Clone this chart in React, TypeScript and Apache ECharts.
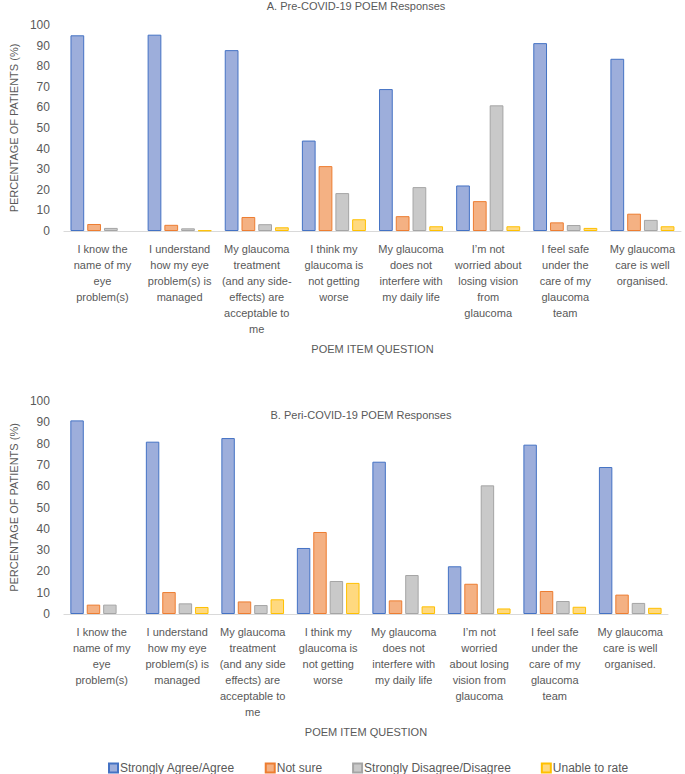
import React, { useEffect, useRef } from "react";
import * as echarts from "echarts";

const seriesNames = ["Strongly Agree/Agree", "Not sure", "Strongly Disagree/Disagree", "Unable to rate"];

const categoriesPre = [
  "I know the\nname of my\neye\nproblem(s)",
  "I understand\nhow my eye\nproblem(s) is\nmanaged",
  "My glaucoma\ntreatment\n(and any side-\neffects) are\nacceptable to\nme",
  "I think my\nglaucoma is\nnot getting\nworse",
  "My glaucoma\ndoes not\ninterfere with\nmy daily life",
  "I’m not\nworried about\nlosing vision\nfrom\nglaucoma",
  "I feel safe\nunder the\ncare of my\nglaucoma\nteam",
  "My glaucoma\ncare is well\norganised.",
];

const categoriesPeri = [
  "I know the\nname of my\neye\nproblem(s)",
  "I understand\nhow my eye\nproblem(s) is\nmanaged",
  "My glaucoma\ntreatment\n(and any side\neffects) are\nacceptable to\nme",
  "I think my\nglaucoma is\nnot getting\nworse",
  "My glaucoma\ndoes not\ninterfere with\nmy daily life",
  "I’m not\nworried\nabout losing\nvision from\nglaucoma",
  "I feel safe\nunder the\ncare of my\nglaucoma\nteam",
  "My glaucoma\ncare is well\norganised.",
];

const preAgree = [95, 95.3, 87.8, 43.9, 68.9, 22.1, 91.2, 83.6];
const preNotSure = [3.4, 3.0, 6.8, 31.5, 7.2, 14.5, 4.2, 8.4];
const preDisagree = [1.5, 1.3, 3.3, 18.4, 21.3, 61, 2.9, 5.4];
const preUnable = [0, 0.3, 1.8, 5.7, 2.3, 2.3, 1.5, 2.3];

const periAgree = [90.9, 80.9, 82.6, 31, 71.5, 22.4, 79.5, 69];
const periNotSure = [4.4, 10.3, 5.9, 38.5, 6.4, 14.2, 10.8, 9.1];
const periDisagree = [4.4, 5, 4.2, 15.5, 18.3, 60.4, 6.1, 5.2];
const periUnable = [0, 3.3, 6.9, 14.6, 3.6, 2.6, 3.4, 2.9];

const yTicks = [0, 10, 20, 30, 40, 50, 60, 70, 80, 90, 100];

const fills = ["#9DAEDB", "#F4B183", "#C9C9C9", "#FFD97F"];
const borders = ["#4472C4", "#ED7D31", "#A5A5A5", "#FFC000"];

const FONT = "Liberation Sans";
const GRAY = "#595959";

export default function App() {
  const ref = useRef<HTMLDivElement>(null);
  useEffect(() => {
    document.body.style.margin = "0";
    const chart = echarts.init(ref.current!, null, { renderer: "svg" });
    const pre = [preAgree, preNotSure, preDisagree, preUnable];
    const peri = [periAgree, periNotSure, periDisagree, periUnable];
    const mkX = (cats: string[], gi: number) => ({
      type: "category",
      gridIndex: gi,
      data: cats,
      axisLine: { lineStyle: { color: "#D9D9D9" } },
      axisTick: { show: false },
      axisLabel: {
        interval: 0,
        color: GRAY,
        fontFamily: FONT,
        fontSize: 11,
        lineHeight: 16,
        margin: 10,
      },
      name: "POEM ITEM QUESTION",
      nameLocation: "middle",
      nameGap: 112,
      nameTextStyle: { color: GRAY, fontFamily: FONT, fontSize: 11 },
    });
    const mkY = (gi: number) => ({
      type: "value",
      gridIndex: gi,
      min: yTicks[0],
      max: yTicks[yTicks.length - 1],
      interval: 10,
      splitLine: { show: false },
      axisLine: { show: false },
      axisTick: { show: false },
      axisLabel: { color: GRAY, fontFamily: FONT, fontSize: 12, margin: 14 },
      name: "PERCENTAGE OF PATIENTS (%)",
      nameLocation: "middle",
      nameGap: 44,
      nameTextStyle: { color: GRAY, fontFamily: FONT, fontSize: 11 },
    });
    const series: any[] = [];
    [pre, peri].forEach((set, gi) => {
      set.forEach((vals, i) => {
        series.push({
          type: "bar",
          name: seriesNames[i],
          xAxisIndex: gi,
          yAxisIndex: gi,
          data: vals.map((v) => (v === 0 ? null : v)),
          barGap: "22%",
          barCategoryGap: "17%",
          itemStyle: { color: fills[i], borderColor: borders[i], borderWidth: 1 },
        });
      });
    });
    chart.setOption({
      animation: false,
      textStyle: { fontFamily: FONT },
      grid: [
        { left: 55, width: 626, top: 25, height: 206 },
        { left: 55, width: 613, top: 401, height: 213 },
      ],
      xAxis: [mkX(categoriesPre, 0), mkX(categoriesPeri, 1)],
      yAxis: [mkY(0), mkY(1)],
      legend: {
        data: seriesNames,
        top: 762,
        left: 108,
        itemWidth: 9,
        itemHeight: 9,
        itemGap: 30,
        padding: 0,
        icon: "rect",
        textStyle: { color: GRAY, fontFamily: FONT, fontSize: 12, padding: [0, 0, 0, -3] },
      },
      graphic: [
        {
          type: "text",
          x: 356,
          y: 0,
          style: {
            text: "A. Pre-COVID-19 POEM Responses",
            textAlign: "center",
            fill: GRAY,
            fontFamily: FONT,
            fontSize: 11,
          },
        },
        {
          type: "text",
          x: 361,
          y: 409,
          style: {
            text: "B. Peri-COVID-19 POEM Responses",
            textAlign: "center",
            fill: GRAY,
            fontFamily: FONT,
            fontSize: 11,
          },
        },
      ],
      series,
    });
    return () => chart.dispose();
  }, []);
  return <div ref={ref} style={{ width: 685, height: 774 }} />;
}
